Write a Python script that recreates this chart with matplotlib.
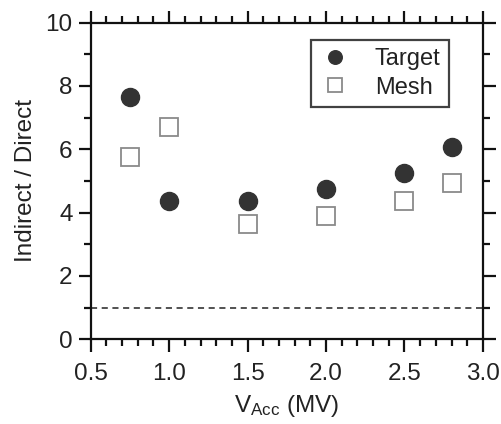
import matplotlib
matplotlib.use('Agg')
import matplotlib.pyplot as plt
from matplotlib.ticker import MultipleLocator

plt.rcParams['font.family'] = ['Liberation Sans', 'DejaVu Sans']
plt.rcParams['mathtext.default'] = 'regular'

# dane
v_acc = [0.75, 1.0, 1.5, 2.0, 2.5, 2.8]
target = [7.64, 4.36, 4.36, 4.74, 5.26, 6.06]
mesh = [5.77, 6.72, 3.64, 3.89, 4.38, 4.93]
poziom = 1.0

fig = plt.figure(figsize=(5.02, 4.24), dpi=100)
ax = fig.add_axes([0.1807, 0.2, 0.7813, 0.7465])

ax.plot(v_acc, target, 'o', color='#333333', markersize=13, label='Target', clip_on=False)
ax.plot(v_acc, mesh, 's', markerfacecolor='white', markeredgecolor='#8a8a8a',
        markeredgewidth=1.3, markersize=12.5, label='Mesh', clip_on=False)
ax.axhline(poziom, color='#222222', linestyle=(0, (4, 3)), linewidth=1.1)

ax.set_xlim(0.5, 3.0)
ax.set_ylim(0, 10)
ax.xaxis.set_major_locator(MultipleLocator(0.5))
ax.xaxis.set_minor_locator(MultipleLocator(0.1))
ax.yaxis.set_major_locator(MultipleLocator(2))
ax.yaxis.set_minor_locator(MultipleLocator(1))
ax.xaxis.set_major_formatter(matplotlib.ticker.FormatStrFormatter('%.1f'))

for s in ax.spines.values():
    s.set_linewidth(1.6)
    s.set_color('#111111')
ax.tick_params(which='both', direction='out', top=True, right=True,
               width=1.6, color='#111111', labelsize=17.5, labelcolor='#222222')
ax.tick_params(which='major', length=9, pad=4)
ax.tick_params(axis='x', which='major', pad=8)
ax.tick_params(which='minor', length=5)

ax.set_xlabel('V$_{Acc}$ (MV)', fontsize=17.5, color='#222222', labelpad=6)
ax.set_ylabel('Indirect / Direct', fontsize=17.5, color='#222222', labelpad=6)

leg = ax.legend(loc='upper right', bbox_to_anchor=(0.913, 0.945), fontsize=17,
                frameon=True, fancybox=False, borderpad=0.35, handletextpad=1.0,
                labelspacing=0.27, handlelength=1.35, borderaxespad=0, markerscale=0.75)
leg.get_frame().set_edgecolor('#111111')
leg.get_frame().set_linewidth(1.6)
for t in leg.get_texts():
    t.set_color('#222222')

fig.savefig('out.png', dpi=100)
